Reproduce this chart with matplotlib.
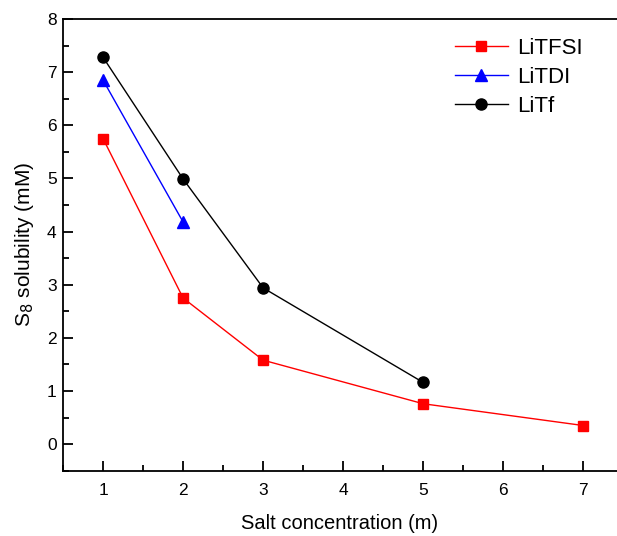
import matplotlib
matplotlib.use("Agg")
import matplotlib.pyplot as plt
from matplotlib.ticker import MultipleLocator

plt.rcParams['font.family'] = ['Liberation Sans', 'DejaVu Sans']

# Salt concentration (m) vs S8 solubility (mM)
tfsi_x = [1, 2, 3, 5, 7]
tfsi_y = [5.75, 2.75, 1.58, 0.76, 0.35]
tdi_x = [1, 2]
tdi_y = [6.85, 4.18]
tf_x = [1, 2, 3, 5]
tf_y = [7.28, 4.99, 2.94, 1.16]

fig = plt.figure(figsize=(6.17, 5.36), dpi=100)
ax = fig.add_axes([0.1021, 0.1218, 0.8979, 0.8428])

ax.plot(tfsi_x, tfsi_y, color='#ff0000', marker='s', markersize=7, lw=1, label='LiTFSI')
ax.plot(tdi_x, tdi_y, color='#0000ff', marker='^', markersize=8, lw=1, label='LiTDI')
ax.plot(tf_x, tf_y, color='black', marker='o', markersize=8, lw=1, label='LiTf')

ax.set_xlim(0.5, 7.42)
ax.set_ylim(-0.5, 8)
ax.xaxis.set_major_locator(MultipleLocator(1))
ax.xaxis.set_minor_locator(MultipleLocator(0.5))
ax.yaxis.set_major_locator(MultipleLocator(1))
ax.yaxis.set_minor_locator(MultipleLocator(0.5))
ax.set_xticks([1, 2, 3, 4, 5, 6, 7])
ax.tick_params(which='both', direction='in', top=False, right=False, width=1.3)
ax.tick_params(which='major', length=7, labelsize=12.5)
ax.tick_params(which='minor', length=4)
ax.tick_params(axis='x', which='major', pad=8.5)
ax.tick_params(axis='y', which='major', pad=4.5)
ax.spines['right'].set_visible(False)
for s in ['left', 'bottom', 'top']:
    ax.spines[s].set_linewidth(1.3)

ax.set_xlabel('Salt concentration (m)', fontsize=14.5, labelpad=12)
ax.set_ylabel('S$_8$ solubility (mM)', fontsize=15, labelpad=8)

ax.legend(loc='upper right', frameon=False, fontsize=16, handlelength=2.4,
          handletextpad=0.4, labelspacing=0.36, borderaxespad=0.3,
          bbox_to_anchor=(0.966, 0.993))

fig.savefig('out.png', dpi=100)
